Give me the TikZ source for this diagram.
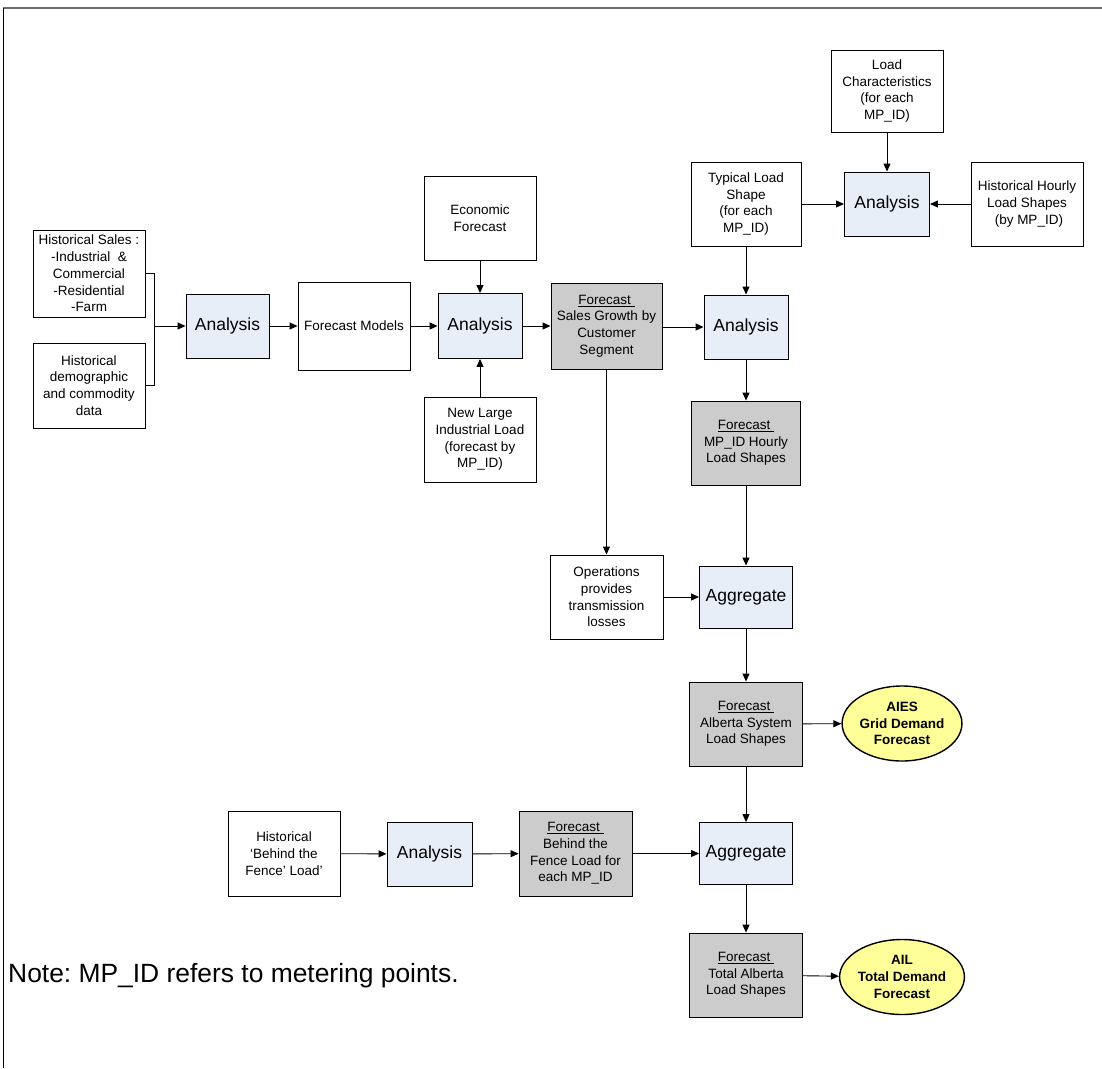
\documentclass[tikz,border=0pt]{standalone}
\usepackage{fontspec}
\setmainfont{Liberation Sans}
\usetikzlibrary{arrows.meta,shapes.geometric}
\definecolor{anblue}{RGB}{231,238,248}
\definecolor{fgray}{RGB}{204,204,204}
\definecolor{ovyel}{RGB}{255,255,153}
\definecolor{framegray}{RGB}{110,110,110}
\frenchspacing
\begin{document}
\begin{tikzpicture}[x=1pt,y=-1pt,
  box/.style={draw=black,line width=0.9pt,fill=white,align=center,inner sep=1pt,font=\fontsize{13.5}{16.7}\selectfont},
  anbox/.style={box,fill=anblue,font=\fontsize{17.5}{20}\selectfont},
  fcbox/.style={box,fill=fgray},
  oval/.style={ellipse,draw=black,line width=1.4pt,fill=ovyel,align=center,inner sep=0pt,font=\bfseries\fontsize{13.5}{16.7}\selectfont},
  arr/.style={line width=0.9pt,-{Triangle[length=8pt,width=7pt]}},
  ln/.style={line width=0.9pt},
  sz/.style 2 args={minimum width=#1pt,minimum height=#2pt}
]
\useasboundingbox (0,0) rectangle (1102,1068);
\fill[white] (0,0) rectangle (1102,1068);
% frame
\draw[framegray,line width=2pt] (3,8) -- (1102,8);
\draw[line width=1pt] (3,8) -- (3,1068);

% nodes
\node[box,sz={112}{87}] (hs) at (89,273.5) {Historical Sales :\\-Industrial\ \ \&\\Commercial\\-Residential\\-Farm};
\node[box,sz={112}{85}] (hd) at (89,385.5) {Historical\\demographic\\and commodity\\data};
\node[anbox,sz={83}{64}] (a1) at (227.5,326) {Analysis};
\node[box,sz={112}{88}] (fm) at (354,326) {Forecast Models};
\node[box,sz={112}{84}] (ef) at (480,218) {Economic\\Forecast};
\node[anbox,sz={84}{65}] (a2) at (480,326) {Analysis};
\node[box,sz={112}{85}] (nl) at (480,439.5) {New Large\\Industrial Load\\(forecast by\\MP\_ID)};
\node[fcbox,sz={111}{86}] (fs) at (606.5,326) {\underline{Forecast }\\Sales Growth by\\Customer\\Segment};
\node[anbox,sz={84}{64}] (a3) at (746,327) {Analysis};
\node[box,sz={110}{84}] (tl) at (746,204) {Typical Load\\Shape\\(for each\\MP\_ID)};
\node[box,sz={112}{82}] (lc) at (887,91) {Load\\Characteristics\\(for each\\MP\_ID)};
\node[anbox,sz={85}{64}] (a4) at (887,204) {Analysis};
\node[box,sz={112}{84}] (hh) at (1027,204) {Historical Hourly\\Load Shapes\\\ (by MP\_ID)};
\node[fcbox,sz={109}{84}] (fmp) at (746,443) {\underline{Forecast }\\MP\_ID Hourly\\Load Shapes};
\node[box,sz={113}{84}] (op) at (606.5,597) {Operations\\provides\\transmission\\losses};
\node[anbox,sz={93}{62}] (ag1) at (746,597) {Aggregate};
\node[fcbox,sz={113}{84}] (fa) at (746,724) {\underline{Forecast }\\Alberta System\\Load Shapes};
\node[oval,minimum width=115pt,minimum height=75pt] (aies) at (902,723.5) {AIES\\Grid Demand\\Forecast};
\node[box,sz={112}{85}] (hb) at (284,853.5) {Historical\\‘Behind the\\Fence’ Load’};
\node[anbox,sz={85}{64}] (a5) at (429.5,854) {Analysis};
\node[fcbox,sz={113}{85}] (fb) at (575.5,853.5) {\underline{Forecast }\\Behind the\\Fence Load for\\each MP\_ID};
\node[anbox,sz={93}{62}] (ag2) at (746,853.5) {Aggregate};
\node[fcbox,sz={113}{84}] (ft) at (746,975) {\underline{Forecast }\\Total Alberta\\Load Shapes};
\node[oval,minimum width=115pt,minimum height=75pt] (ail) at (902,977) {AIL\\Total Demand\\Forecast};
\node[anchor=west,inner sep=0pt,font=\fontsize{26.4}{30}\selectfont] (note) at (8,976) {Note: MP\_ID refers to metering points.};

% connectors
\coordinate (br) at (154,326);
\draw[ln] (hs.east) -- (hs.east -| br) -- (hd.east -| br) -- (hd.east);
\draw[arr] (br) -- (a1.west);
\draw[arr] (a1) -- (fm);
\draw[arr] (fm) -- (a2);
\draw[arr] (ef) -- (a2);
\draw[arr] (nl) -- (a2);
\draw[arr] (a2) -- (fs);
\draw[arr] (fs.east |- a3) -- (a3.west);
\draw[arr] (tl) -- (a3);
\draw[arr] (tl) -- (a4);
\draw[arr] (lc) -- (a4);
\draw[arr] (hh) -- (a4);
\draw[arr] (a3) -- (fmp);
\draw[arr] (fmp) -- (ag1);
\draw[arr] (fs) -- (op);
\draw[arr] (op) -- (ag1);
\draw[arr] (ag1) -- (fa);
\draw[arr] (fa) -- (aies);
\draw[arr] (fa) -- (ag2);
\draw[arr] (hb) -- (a5);
\draw[arr] (a5) -- (fb);
\draw[arr] (fb) -- (ag2);
\draw[arr] (ag2) -- (ft);
\draw[arr] (ft) -- (ail);
\end{tikzpicture}
\end{document}
